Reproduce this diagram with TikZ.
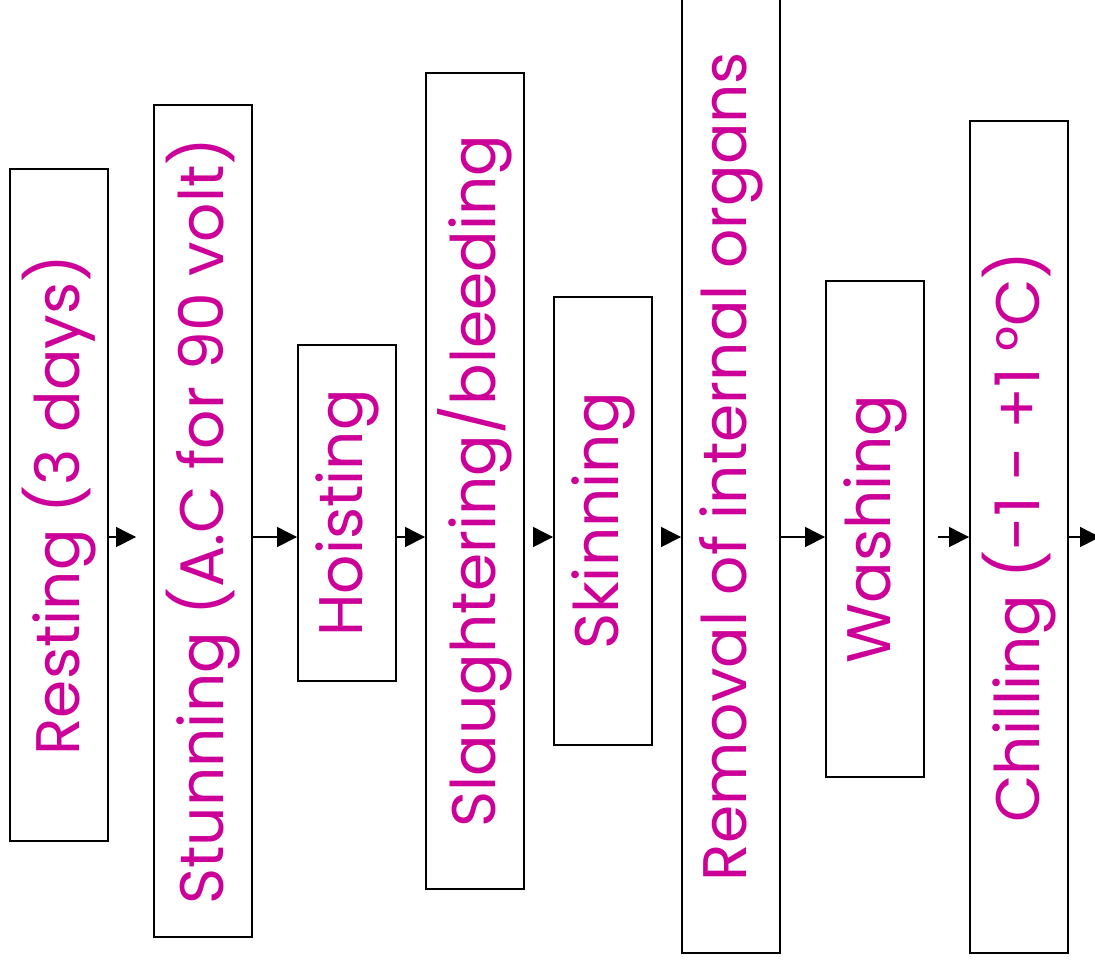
\documentclass[tikz,border=0pt]{standalone}
\usepackage{fontspec}
\setmainfont{Poppins}
\usepackage{xcolor}
\usetikzlibrary{arrows.meta}
\definecolor{magent}{HTML}{CC0099}
\tikzset{
  step box/.style={draw=black,fill=white,line width=1.1pt,minimum width=98*0.02cm,inner sep=0pt,
    font=\fontsize{35}{40}\selectfont\color{magent}},
  arr/.style={-{Triangle[length=0.4cm,width=0.4cm]},line width=0.8pt,color=black},
}
\newcommand{\up}[1]{\rotatebox{90}{#1}}

\begin{document}
\begin{tikzpicture}[x=0.02cm,y=-0.02cm]
\useasboundingbox (0,0) rectangle (1095,965);
\clip (0,0) rectangle (1095,965);
\coordinate (mid) at (0,537);
\node[step box,minimum height=672*0.02cm] (rest) at (59,505) {\up{Resting (3 days)}};
\node[step box,minimum height=832*0.02cm] (stun) at (203,521) {\up{Stunning (A.C for 90 volt)}};
\node[step box,minimum height=336*0.02cm] (hoist) at (347,513) {\up{Hoisting}};
\node[step box,minimum height=816*0.02cm] (slau) at (475,481) {\up{Slaughtering/bleeding}};
\node[step box,minimum height=448*0.02cm] (skin) at (603,521) {\up{Skinning}};
\node[step box,minimum height=973*0.02cm] (remov) at (731,466.5) {\up{Removal of internal organs}};
\node[step box,minimum height=496*0.02cm] (wash) at (875,529) {\up{Washing}};
\node[step box,minimum height=832*0.02cm] (chill) at (1019,537) {\up{Chilling (-1 - +1 °C)}};
\coordinate (out) at (1100,537);
\draw[arr,shorten >=0.34cm] (rest.east |- mid) -- (stun.west |- mid);
\draw[arr] (stun.east |- mid) -- (hoist.west |- mid);
\draw[arr] (hoist.east |- mid) -- (slau.west |- mid);
\draw[arr,shorten <=0.18cm] (slau.east |- mid) -- (skin.west |- mid);
\draw[arr,shorten <=0.2cm] (skin.east |- mid) -- (remov.west |- mid);
\draw[arr] (remov.east |- mid) -- (wash.west |- mid);
\draw[arr,shorten <=0.26cm] (wash.east |- mid) -- (chill.west |- mid);
\draw[arr] (chill.east |- mid) -- (out);
\end{tikzpicture}
\end{document}
